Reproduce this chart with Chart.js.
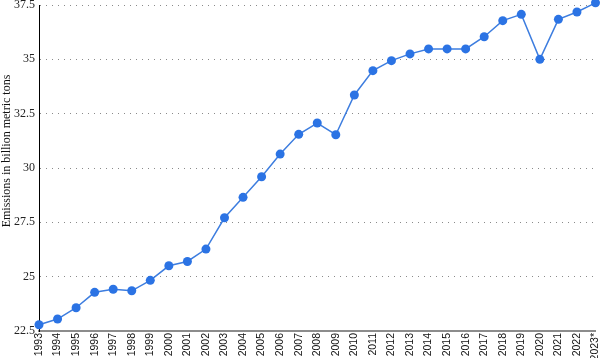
<!DOCTYPE html>
<html>
<head>
<meta charset="utf-8">
<script src="https://cdn.jsdelivr.net/npm/chart.js@4/dist/chart.umd.min.js"></script>
<style>
html,body{margin:0;padding:0;background:#fff;}
#wrap{width:600px;height:358px;position:relative;}
</style>
</head>
<body>
<div id="wrap"><canvas id="c" width="600" height="358"></canvas></div>
<script>
const years = ["1993","1994","1995","1996","1997","1998","1999","2000","2001","2002","2003","2004","2005","2006","2007","2008","2009","2010","2011","2012","2013","2014","2015","2016","2017","2018","2019","2020","2021","2022","2023*"];
const emissions = [22.79,23.05,23.57,24.28,24.42,24.35,24.83,25.50,25.70,26.27,27.71,28.65,29.60,30.64,31.55,32.07,31.53,33.36,34.48,34.94,35.25,35.48,35.48,35.48,36.04,36.78,37.07,35.00,36.84,37.18,37.60];
const yTitle = "Emissions in billion metric tons";
const yMin = 22.5, yMax = 37.5, yStep = 2.5;

const yTitlePlugin = {
  id: 'yTitle',
  afterDraw(chart) {
    const ctx = chart.ctx;
    ctx.save();
    ctx.translate(7, 151);
    ctx.rotate(-Math.PI / 2);
    ctx.font = '12px "Liberation Serif"';
    ctx.fillStyle = '#111';
    ctx.textAlign = 'center';
    ctx.textBaseline = 'middle';
    ctx.fillText(yTitle, 0, 0);
    ctx.restore();
  }
};

const zeroPad = s => { s.paddingTop = 0; s.paddingBottom = 0; s.paddingLeft = 0; s.paddingRight = 0; };

new Chart(document.getElementById('c'), {
  type: 'line',
  data: {
    labels: years,
    datasets: [{
      data: emissions,
      borderColor: '#3d7ddf',
      backgroundColor: '#2b73e4',
      borderWidth: 1.5,
      pointRadius: 4.5,
      pointBackgroundColor: '#2b73e4',
      pointBorderColor: '#2b73e4',
      pointBorderWidth: 0,
      tension: 0,
      clip: false
    }]
  },
  plugins: [yTitlePlugin],
  options: {
    responsive: false,
    animation: false,
    devicePixelRatio: 1,
    layout: { padding: { top: 5, right: 3, left: 0, bottom: 0 } },
    plugins: { legend: { display: false }, tooltip: { enabled: false } },
    scales: {
      x: {
        offset: false,
        grid: { display: false, drawTicks: false },
        border: { display: true, color: '#8c8c8c', width: 2 },
        ticks: {
          autoSkip: false, maxRotation: 90, minRotation: 90, padding: 2,
          color: '#111', font: { family: 'Liberation Sans', size: 10.5 }
        },
        afterFit: s => { s.height = 27; zeroPad(s); }
      },
      y: {
        min: yMin, max: yMax,
        grid: { color: '#8a8a8a', lineWidth: 1, drawTicks: false },
        border: { display: true, color: '#000', width: 1, dash: [1, 5] },
        ticks: {
          stepSize: yStep, padding: 4, color: '#222',
          font: { family: 'Liberation Serif', size: 12 }
        },
        title: { display: false },
        afterFit: s => { s.width = 39; zeroPad(s); }
      }
    }
  }
});
</script>
</body>
</html>
